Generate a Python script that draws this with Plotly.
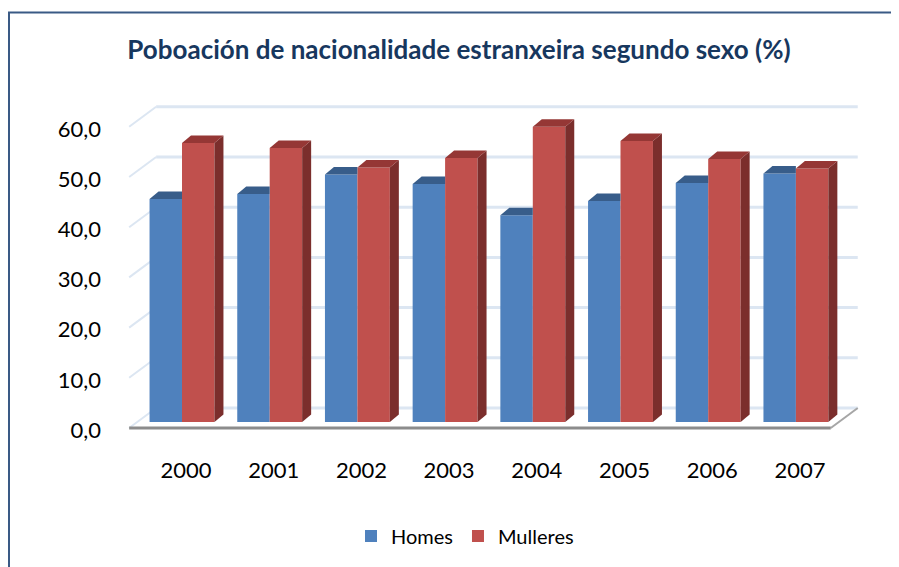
import plotly.graph_objects as go

# ---- data ----
years = ["2000", "2001", "2002", "2003", "2004", "2005", "2006", "2007"]
homes = [44.4, 45.4, 49.3, 47.4, 41.2, 44.0, 47.6, 49.5]
mulleres = [55.6, 54.6, 50.7, 52.6, 58.8, 56.0, 52.4, 50.5]
y_ticks = [0, 10, 20, 30, 40, 50, 60]
y_tick_text = ["0,0", "10,0", "20,0", "30,0", "40,0", "50,0", "60,0"]
title_text = "Poboación de nacionalidade estranxeira segundo sexo (%)"

# ---- layout geometry (pixels in the 899x567 page) ----
PAGE_W, PAGE_H = 899, 567
OFF = 8                       # default body margin of the html page
W, H = PAGE_W - OFF, PAGE_H - OFF
L, R, T, B = 120, 870, 95, 440
PX_CAT = 87.7      # pixels per category
X0_PX = 182.0      # pixel of category 0 centre
PX_UNIT = 5.02     # pixels per value unit
Y0_PX = 422.0      # pixel of value 0 (bar plane)

xmin = (L - X0_PX) / PX_CAT
xmax = (R - X0_PX) / PX_CAT
ymin = (Y0_PX - B) / PX_UNIT
ymax = (Y0_PX - T) / PX_UNIT

def ux(px):
    return px / PX_CAT

def uy(px):
    return px / PX_UNIT

BARGAP = 0.26
bw = (1 - BARGAP) / 2

# 3D offsets (pixels): front plane, back wall, bar depth
FDX, FDY = -9, -6      # front edge relative to bar plane (dy: up positive)
BDX, BDY = 18, 14      # back wall relative to bar plane
DDX, DDY = 9, 7.5      # bar depth

BLUE, BLUE_TOP = "#4F81BD", "#385D8A"
RED, RED_TOP, RED_SIDE = "#C0504D", "#953735", "#7B2E2C"
GRID = "#DCE6F2"
FONT = "Lato"

fig = go.Figure()
fig.add_trace(go.Bar(name="Homes", x=list(range(len(years))), y=homes,
                     marker=dict(color=BLUE, line=dict(width=0))))
fig.add_trace(go.Bar(name="Mulleres", x=list(range(len(years))), y=mulleres,
                     marker=dict(color=RED, line=dict(width=0))))

shapes = []
left_edge = -0.5
right_edge = len(years) - 0.5

# back wall gridlines and left wall stubs
for v in y_ticks:
    shapes.append(dict(type="line", xref="x", yref="y", layer="below",
                       x0=left_edge + ux(BDX), x1=right_edge + ux(BDX),
                       y0=v + uy(BDY), y1=v + uy(BDY),
                       line=dict(color=GRID, width=3)))
    shapes.append(dict(type="line", xref="x", yref="y", layer="below",
                       x0=left_edge + ux(FDX), x1=left_edge + ux(BDX),
                       y0=v + uy(FDY), y1=v + uy(BDY),
                       line=dict(color=GRID, width=2)))

# floor
shapes.append(dict(type="line", xref="x", yref="y", layer="below",
                   x0=right_edge + ux(FDX), x1=right_edge + ux(BDX),
                   y0=uy(FDY), y1=uy(BDY),
                   line=dict(color="#A6A6A6", width=2)))
shapes.append(dict(type="line", xref="x", yref="y", layer="above",
                   x0=left_edge + ux(FDX), x1=right_edge + ux(FDX),
                   y0=uy(FDY), y1=uy(FDY),
                   line=dict(color="#8C8C8C", width=3)))

def path(pts):
    return "M " + " L ".join(f"{a},{b}" for a, b in pts) + " Z"

ddx, ddy = ux(DDX), uy(DDY)
for i, (h, m) in enumerate(zip(homes, mulleres)):
    # Homes bar top (clipped where the Mulleres bar hides it)
    hx0, hx1 = i - bw, i
    if m >= h:
        pts = [(hx0, h), (hx1, h), (hx1, h + ddy), (hx0 + ddx, h + ddy)]
    else:
        pts = [(hx0, h), (hx1, h), (hx1 + ddx, h + ddy), (hx0 + ddx, h + ddy)]
    shapes.append(dict(type="path", xref="x", yref="y", layer="above",
                       path=path(pts), fillcolor=BLUE_TOP, line=dict(width=0)))
    # Mulleres bar side and top
    mx0, mx1 = i, i + bw
    shapes.append(dict(type="path", xref="x", yref="y", layer="above",
                       path=path([(mx1, 0), (mx1 + ddx, ddy), (mx1 + ddx, m + ddy), (mx1, m)]),
                       fillcolor=RED_SIDE, line=dict(width=0)))
    shapes.append(dict(type="path", xref="x", yref="y", layer="above",
                       path=path([(mx0, m), (mx1, m), (mx1 + ddx, m + ddy), (mx0 + ddx, m + ddy)]),
                       fillcolor=RED_TOP, line=dict(width=0)))

# outer border: only the left and top edges are visible in the page
def px_x(px):
    return (px - L) / (R - L)

def px_y(py):
    return (B - py) / (B - T)

BORDER = dict(color="#3A5A85", width=2)
shapes.append(dict(type="line", xref="paper", yref="paper", layer="above",
                   x0=px_x(9), x1=px_x(9), y0=px_y(12.5), y1=px_y(580), line=BORDER))
shapes.append(dict(type="line", xref="paper", yref="paper", layer="above",
                   x0=px_x(8), x1=px_x(905), y0=px_y(12.5), y1=px_y(12.5), line=BORDER))

fig.update_layout(
    width=W, height=H,
    margin=dict(l=L - OFF, r=PAGE_W - R, t=T - OFF, b=PAGE_H - B, autoexpand=False),
    paper_bgcolor="white", plot_bgcolor="white",
    barmode="group", bargap=BARGAP, bargroupgap=0,
    shapes=shapes,
    showlegend=True,
    legend=dict(orientation="h", x=px_x(465), xanchor="center",
                y=px_y(536), yanchor="middle",
                font=dict(family=FONT, size=20, color="black"),
                itemwidth=30, bgcolor="rgba(0,0,0,0)"),
    title=dict(text=title_text, x=(459 - OFF) / W, xanchor="center",
               y=1 - (50 - OFF) / H, yanchor="middle",
               font=dict(family=FONT, size=26, color="#17375E", weight="bold")),
    xaxis=dict(range=[xmin, xmax], tickmode="array",
               tickvals=list(range(len(years))), ticktext=years,
               showgrid=False, zeroline=False, showline=False, ticks="",
               tickfont=dict(family=FONT, size=22, color="black"),
               ticklabelstandoff=15, ticklabelshift=4, fixedrange=True),
    yaxis=dict(range=[ymin, ymax], tickmode="array",
               tickvals=y_ticks, ticktext=y_tick_text,
               showgrid=False, zeroline=False, showline=False, ticks="",
               tickfont=dict(family=FONT, size=22, color="black"),
               ticklabelstandoff=18, ticklabelshift=8, fixedrange=True),
)

fig.write_html(
    "out.html",
    post_script="document.documentElement.style.overflow='hidden';"
                "document.body.style.overflow='hidden';",
)
